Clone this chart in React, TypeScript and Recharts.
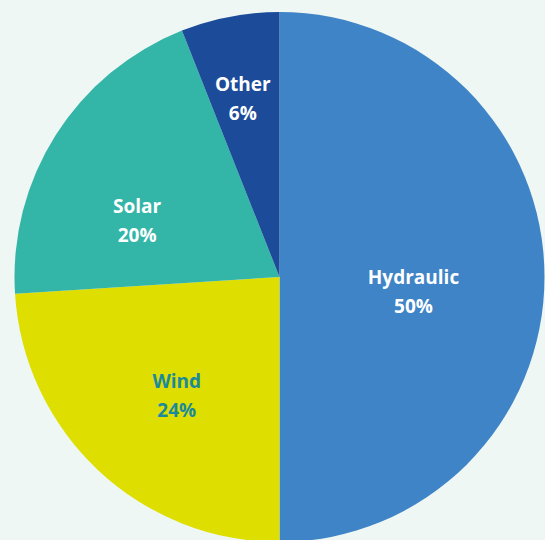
import { PieChart, Pie, Cell } from 'recharts';

const sources = ['Hydraulic', 'Wind', 'Solar', 'Other'];
const shares = [50, 24, 20, 6];

const sliceColors = ['#3e84c6', '#dede00', '#33b5a8', '#1c4b9a'];
const labelColors = ['#ffffff', '#1b8a9a', '#ffffff', '#ffffff'];
// label placement: distance from centre (px) and a small turn off the slice midline (deg)
const labelRadius = [134, 146, 159, 196];
const labelTurn = [0, -1.5, 6, 0];

const data = sources.map((name, i) => ({ name, value: shares[i] }));

const RADIAN = Math.PI / 180;

function SliceLabel(props: any) {
  const { cx, cy, midAngle, index, name, value } = props;
  const r = labelRadius[index];
  const a = (midAngle + labelTurn[index]) * RADIAN;
  const x = cx + r * Math.cos(-a);
  const y = cy + r * Math.sin(-a);
  return (
    <text
      x={x}
      y={y}
      fill={labelColors[index]}
      textAnchor="middle"
      dominantBaseline="central"
      fontFamily="'Open Sans', sans-serif"
      fontWeight={700}
      fontSize={19}
    >
      <tspan x={x} dy={0}>{name}</tspan>
      <tspan x={x} dy={29}>{value}%</tspan>
    </text>
  );
}

export default function App() {
  return (
    <div style={{ position: 'absolute', left: 0, top: 0, width: 545, height: 540, background: '#eef7f4' }}>
      <PieChart width={545} height={540} margin={{ top: 0, right: 0, bottom: 0, left: 0 }}>
        <Pie
          data={data}
          dataKey="value"
          nameKey="name"
          cx={279.5}
          cy={277}
          outerRadius={265}
          startAngle={90}
          endAngle={-270}
          stroke="none"
          labelLine={false}
          label={SliceLabel}
          isAnimationActive={false}
        >
          {data.map((d, i) => (
            <Cell key={d.name} fill={sliceColors[i]} />
          ))}
        </Pie>
      </PieChart>
    </div>
  );
}
